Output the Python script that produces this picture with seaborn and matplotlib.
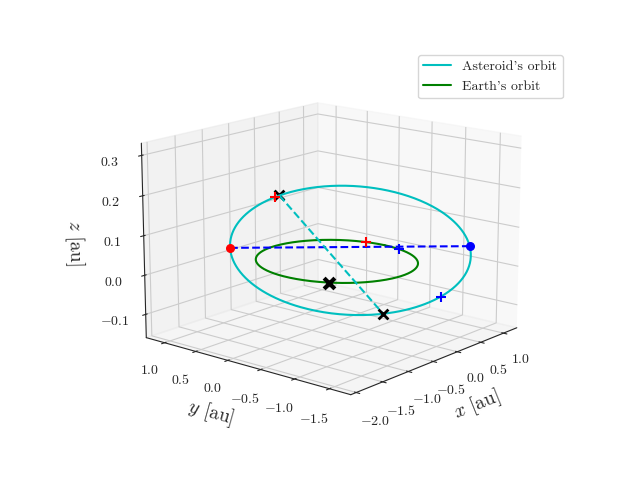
import numpy as np
import matplotlib
matplotlib.use("Agg")
import matplotlib.pyplot as plt
import seaborn as sns

sns.set_style("white")
plt.rcParams["mathtext.fontset"] = "cm"
plt.rcParams["font.family"] = "serif"
plt.rcParams["font.serif"] = ["cmr10"]
plt.rcParams["axes.formatter.use_mathtext"] = True

# orbital parameters
A_AST = 1.48      # semi-major axis [au]
E_AST = 0.11      # eccentricity
INC_DEG = 3.4     # inclination [deg]
NODE_DEG = 310.0  # longitude of ascending node [deg]
PERI_DEG = 182.0  # argument of perihelion [deg]
Z_SHIFT = 0.035   # offset of the asteroid orbit plane [au]
R_EARTH = 1.0

# marker positions (eccentric anomaly on asteroid orbit / angle on Earth's orbit)
AST_X_ANOM = [-1.0, 1.75]
AST_RED_PLUS = -0.95
AST_BLUE_PLUS = 2.3
EARTH_X_DEG = 212.0
EARTH_BLUE_DEG = -15.0
EARTH_RED_DEG = 15.0

theta = np.linspace(0, 2 * np.pi, 400)
node = np.deg2rad(NODE_DEG)
inc = np.deg2rad(INC_DEG)
peri = np.deg2rad(PERI_DEG)

def ast_point(E):
    px = A_AST * (np.cos(E) - E_AST)
    py = A_AST * np.sqrt(1 - E_AST**2) * np.sin(E)
    qx = px * np.cos(peri) - py * np.sin(peri)
    qy = px * np.sin(peri) + py * np.cos(peri)
    z = qy * np.sin(inc) + Z_SHIFT
    qy = qy * np.cos(inc)
    x = qx * np.cos(node) - qy * np.sin(node)
    y = qx * np.sin(node) + qy * np.cos(node)
    return x, y, z

def earth_point(deg):
    a = np.deg2rad(deg)
    return R_EARTH * np.cos(a), R_EARTH * np.sin(a), 0.0

ax_x, ax_y, ax_z = ast_point(theta)
ex, ey = R_EARTH * np.cos(theta), R_EARTH * np.sin(theta)

fig = plt.figure(figsize=(6.4, 4.8), dpi=100)
ax = fig.add_subplot(111, projection="3d")
ax.plot(ax_x, ax_y, ax_z, color="c", label="Asteroid's orbit")
ax.plot(ex, ey, np.zeros_like(ex), color="g", label="Earth's orbit")

# apsides
per = ast_point(0.0)
aph = ast_point(np.pi)
ax.plot([per[0], aph[0]], [per[1], aph[1]], [per[2], aph[2]], "b--")
ax.scatter(*per, color="r", s=30, depthshade=False)
ax.scatter(*aph, color="b", s=30, depthshade=False)

# x markers on the asteroid orbit
top = ast_point(AST_X_ANOM[0])
bot = ast_point(AST_X_ANOM[1])
ax.plot([top[0], bot[0]], [top[1], bot[1]], [top[2], bot[2]], "c--")
ax.scatter(*top, color="k", marker="x", s=50, linewidths=2, depthshade=False)
ax.scatter(*bot, color="k", marker="x", s=50, linewidths=2, depthshade=False)
ax.scatter(*ast_point(AST_RED_PLUS), color="r", marker="+", s=60, depthshade=False)
ax.scatter(*ast_point(AST_BLUE_PLUS), color="b", marker="+", s=60, depthshade=False)

# Earth markers
ax.scatter(*earth_point(EARTH_X_DEG), color="k", marker="x", s=60, linewidths=3, depthshade=False)
ax.scatter(*earth_point(EARTH_BLUE_DEG), color="b", marker="+", s=60, depthshade=False)
ax.scatter(*earth_point(EARTH_RED_DEG), color="r", marker="+", s=60, depthshade=False)

ax.set_xlabel(r"$x$ [au]", fontsize=14)
ax.set_ylabel(r"$y$ [au]", fontsize=14)
ax.set_zlabel(r"$z$ [au]", fontsize=14)
ax.set_xticks([-2.0, -1.5, -1.0, -0.5, 0.0, 0.5, 1.0])
ax.set_yticks([-1.5, -1.0, -0.5, 0.0, 0.5, 1.0])
ax.set_zticks([-0.1, 0.0, 0.1, 0.2, 0.3])
ax.set_xlim(-2.1, 1.3)
ax.set_ylim(-1.8, 1.3)
ax.set_zlim(-0.16, 0.33)
ax.view_init(elev=15, azim=-140)
ax.set_box_aspect(None, zoom=1.12)
fig.legend(loc="upper right", bbox_to_anchor=(0.89, 0.9))
fig.savefig("out.png", dpi=100)
